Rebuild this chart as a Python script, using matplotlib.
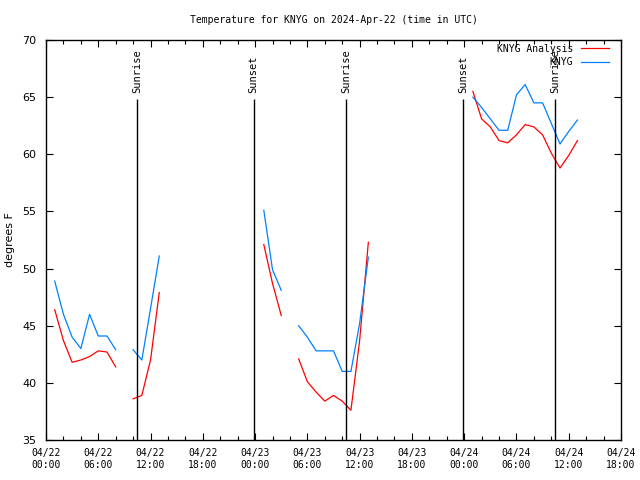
#!/usr/bin/env python3
"""Temperature for KNYG, observed vs analysis, with sunrise/sunset markers."""

import numpy as np
import matplotlib
matplotlib.use("Agg")
import matplotlib.pyplot as plt
from matplotlib.ticker import MultipleLocator

nan = np.nan

# hours since 2024-04-22 00:00 UTC
hours = np.arange(1, 62)

# observed (KNYG) and analysis temps, deg F, NaN where there is no data
obs = [48.9, 46.0, 44.0, 43.0, 46.0, 44.1, 44.1, 42.9, nan, 42.9, 42.0, 46.5, 51.1,
       nan, nan, nan, nan, nan, nan, nan, nan, nan, nan, nan,
       55.1, 49.9, 48.1, nan, 45.0, 44.0, 42.8, 42.8, 42.8, 41.0, 41.0, 45.2, 51.0,
       nan, nan, nan, nan, nan, nan, nan, nan, nan, nan, nan,
       65.0, 64.1, 63.1, 62.1, 62.1, 65.2, 66.1, 64.5, 64.5, 62.7, 60.9, 62.0, 63.0]
analysis = [46.4, 43.7, 41.8, 42.0, 42.3, 42.8, 42.7, 41.4, nan, 38.6, 38.9, 42.0, 47.9,
            nan, nan, nan, nan, nan, nan, nan, nan, nan, nan, nan,
            52.1, 48.7, 45.9, nan, 42.1, 40.1, 39.2, 38.4, 38.9, 38.4, 37.6, 43.7, 52.3,
            nan, nan, nan, nan, nan, nan, nan, nan, nan, nan, nan,
            65.5, 63.1, 62.4, 61.2, 61.0, 61.7, 62.6, 62.4, 61.7, 60.1, 58.8, 59.9, 61.2]

# sun events (hours since start) and their labels
sun_hours = [10.45, 23.83, 34.43, 47.85, 58.42]
sun_labels = ["Sunrise", "Sunset", "Sunrise", "Sunset", "Sunrise"]

tick_hours = np.arange(0, 67, 6)
tick_labels = ["04/22\n00:00", "04/22\n06:00", "04/22\n12:00", "04/22\n18:00",
               "04/23\n00:00", "04/23\n06:00", "04/23\n12:00", "04/23\n18:00",
               "04/24\n00:00", "04/24\n06:00", "04/24\n12:00", "04/24\n18:00"]

MONO = "DejaVu Sans Mono"

fig = plt.figure(figsize=(6.4, 4.8), dpi=100)
ax = fig.add_axes([46 / 640, 40 / 480, 575 / 640, 400 / 480])

ax.plot(hours, analysis, color="#ff0000", linewidth=0.9, label="KNYG Analysis")
ax.plot(hours, obs, color="#0080ff", linewidth=0.9, label="KNYG")

for h, lab in zip(sun_hours, sun_labels):
    ax.vlines(h, 35, 64.8, color="black", linewidth=1.0)
    ax.text(h, 65.4, lab, rotation=90, ha="center", va="bottom",
            family=MONO, fontsize=7.5)

ax.set_xlim(0, 66)
ax.set_ylim(35, 70)
ax.set_xticks(tick_hours)
ax.set_xticklabels(tick_labels, family=MONO, fontsize=7)
ax.xaxis.set_minor_locator(MultipleLocator(2))
ax.yaxis.set_major_locator(MultipleLocator(5))
ax.tick_params(which="both", direction="in", top=True, right=True, width=0.8)
ax.tick_params(which="major", length=5)
ax.tick_params(which="minor", length=3)
ax.tick_params(axis="x", pad=6)
ax.tick_params(axis="y", labelsize=8, pad=7)
for sp in ax.spines.values():
    sp.set_linewidth(1.0)

ax.set_ylabel("degrees F", fontsize=8, labelpad=5)
ax.set_title("Temperature for KNYG on 2024-Apr-22 (time in UTC)",
             family=MONO, fontsize=7, pad=12)

ax.legend(loc="upper right", bbox_to_anchor=(1 - 8 / 575, 1.0),
          frameon=False, markerfirst=False,
          prop={"family": MONO, "size": 7}, handlelength=2.9,
          handletextpad=0.8, labelspacing=0.35, borderaxespad=0.2,
          borderpad=0.2)

fig.savefig("out.png", dpi=100)
